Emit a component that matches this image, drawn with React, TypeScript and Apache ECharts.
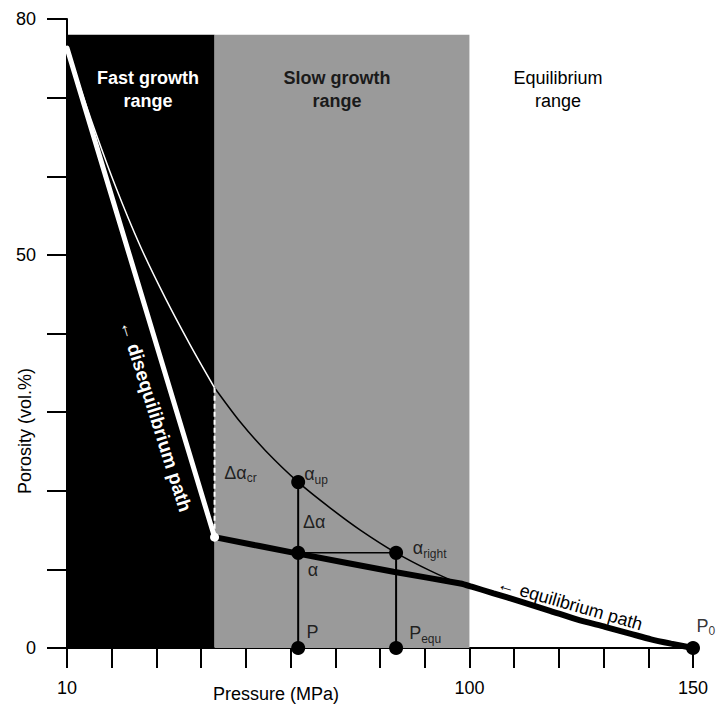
import React, { useEffect, useRef } from 'react';
import * as echarts from 'echarts';

const FONT = '"Liberation Sans", Arial, Helvetica, sans-serif';

// Axis tick labels
const xTickLabels = [10, 100, 150];
const yTickLabels = [0, 50, 80];

// Growth ranges (pressure, MPa)
const regionNames = ['Fast growth\nrange', 'Slow growth\nrange', 'Equilibrium\nrange'];
const regionStart = [10, 43, 100];
const regionEnd = [43, 100, 150];
const regionTop = 78;

// Equilibrium porosity curve (thin line)
const curveX = [10, 15.4, 20.8, 26.4, 32.0, 37.6, 43.0, 48.8, 54.4, 61.7, 68.9, 75.6, 83.6, 91.3, 98.0];
const curveY = [76.3, 67.2, 58.8, 51.1, 44.5, 38.5, 33.1, 28.7, 25.1, 21.1, 17.8, 15.0, 12.1, 9.8, 8.1];

// Disequilibrium path (thick white)
const diseqX = [10, 43];
const diseqY = [76.3, 14.1];

// Equilibrium path (thick black)
const eqPathX = [43, 61.7, 83.0, 98.0, 100.5, 105.4, 111.5, 118.2, 124.2, 130.3, 136.1, 140.6, 145.1, 150];
const eqPathY = [14.1, 12.0, 9.7, 8.2, 7.8, 6.95, 5.9, 4.7, 3.6, 2.7, 1.8, 1.1, 0.55, 0];

// Key points
const pressureP = 61.7;
const pressureEqu = 83.6;
const pressure0 = 150;
const alphaUp = 21.1;
const alphaVal = 12.1;
const alphaRight = 12.1;
const criticalTop = 33.1;
const criticalBottom = 14.1;

// Annotation labels (anchored at label centres)
const annotationTexts = [
  '{m|Δα}{s|cr}',
  '{m|α}{s|up}',
  '{m|Δα}',
  '{m|α}',
  '{m|α}{s|right}',
  '{m|P}',
  '{m|P}{s|equ}',
  '{m|P}{s|0}',
];
const annotationX = [48.8, 65.7, 65.3, 65.0, 91.1, 64.9, 90.1, 152.9];
const annotationY = [22.3, 22.1, 16.0, 9.9, 12.7, 2.0, 1.9, 2.8];

const regionColors = ['#000000', '#9a9a9a', 'rgba(0,0,0,0)'];

export default function App() {
  const ref = useRef<HTMLDivElement>(null);
  useEffect(() => {
    if (!ref.current) return;
    const chart = echarts.init(ref.current, undefined, { renderer: 'svg' });

    const curveWhite = curveX.map((x, i) => [x, curveY[i]]).filter((p) => p[0] <= regionEnd[0]);
    const curveBlack = curveX.map((x, i) => [x, curveY[i]]).filter((p) => p[0] >= regionEnd[0]);

    const blackLine = (data: number[][], width: number, z = 4) => ({
      type: 'line',
      data,
      symbol: 'none',
      z,
      lineStyle: { color: '#000', width },
      silent: true,
    });

    const option: any = {
      animation: false,
      backgroundColor: '#fff',
      grid: { left: 67, right: 25, top: 19, bottom: 60, containLabel: false },
      xAxis: {
        type: 'value',
        min: 10,
        max: 150,
        interval: 10,
        axisLine: { show: true, onZero: false, lineStyle: { color: '#000', width: 2 } },
        axisTick: { show: true, length: 20, lineStyle: { color: '#000', width: 2 } },
        splitLine: { show: false },
        axisLabel: {
          margin: 31,
          fontSize: 18,
          fontFamily: FONT,
          color: '#000',
          formatter: (v: number) => (xTickLabels.includes(v) ? String(v) : ''),
        },
      },
      yAxis: {
        type: 'value',
        min: 0,
        max: 80,
        interval: 10,
        axisLine: { show: true, onZero: false, lineStyle: { color: '#000', width: 2 } },
        axisTick: { show: true, length: 20, lineStyle: { color: '#000', width: 2 } },
        splitLine: { show: false },
        axisLabel: {
          margin: 31,
          fontSize: 18,
          fontFamily: FONT,
          color: '#000',
          formatter: (v: number) => (yTickLabels.includes(v) ? String(v) : ''),
        },
      },
      series: [
        {
          type: 'line',
          data: [[10, 0]],
          symbol: 'none',
          lineStyle: { opacity: 0 },
          z: 1,
          silent: true,
          markArea: {
            silent: true,
            label: { show: false },
            data: regionStart.map((s, i) => [
              { xAxis: s, yAxis: 0, itemStyle: { color: regionColors[i] } },
              { xAxis: regionEnd[i], yAxis: regionTop },
            ]),
          },
        },
        {
          type: 'line',
          data: curveWhite,
          symbol: 'none',
          smooth: 0.3,
          z: 3,
          lineStyle: { color: '#fff', width: 1.5 },
          silent: true,
        },
        { ...blackLine(curveBlack, 1.5, 3), smooth: 0.3 },
        {
          type: 'line',
          data: diseqX.map((x, i) => [x, diseqY[i]]),
          symbol: 'none',
          z: 4,
          lineStyle: { color: '#fff', width: 5, cap: 'round' },
          silent: true,
        },
        { ...blackLine(eqPathX.map((x, i) => [x, eqPathY[i]]), 6, 4), smooth: 0.2 },
        {
          type: 'line',
          data: [
            [regionEnd[0], criticalTop],
            [regionEnd[0], criticalBottom],
          ],
          symbol: 'none',
          z: 4,
          lineStyle: { color: '#fff', width: 2, type: [5, 3] },
          silent: true,
        },
        blackLine(
          [
            [pressureP, 0],
            [pressureP, alphaUp],
          ],
          2,
          5
        ),
        blackLine(
          [
            [pressureEqu, 0],
            [pressureEqu, alphaRight],
          ],
          2,
          5
        ),
        blackLine(
          [
            [pressureP, alphaVal],
            [pressureEqu, alphaRight],
          ],
          1.5,
          5
        ),
        {
          type: 'scatter',
          clip: false,
          z: 6,
          symbol: 'circle',
          symbolSize: 14,
          itemStyle: { color: '#000', opacity: 1 },
          data: [
            [pressureP, alphaUp],
            [pressureP, alphaVal],
            [pressureEqu, alphaRight],
            [pressureP, 0],
            [pressureEqu, 0],
            [pressure0, 0],
          ],
          silent: true,
        },
        {
          type: 'scatter',
          clip: false,
          z: 6,
          symbol: 'circle',
          symbolSize: 9,
          itemStyle: { color: '#fff', opacity: 1 },
          data: [[regionEnd[0], criticalBottom]],
          silent: true,
        },
        {
          type: 'scatter',
          clip: false,
          z: 7,
          symbolSize: 0,
          silent: true,
          data: annotationTexts.map((t, i) => ({
            value: [annotationX[i], annotationY[i]],
            label: { formatter: t },
          })),
          label: {
            show: true,
            position: 'inside',
            rich: {
              m: { fontSize: 18, fontFamily: FONT, color: '#000', lineHeight: 22 },
              s: { fontSize: 12, fontFamily: FONT, color: '#000', lineHeight: 12, padding: [11, 0, 0, 0] },
            },
          },
        },
      ],
      graphic: [
        {
          type: 'text',
          z: 100,
          x: 276,
          y: 694,
          style: { text: 'Pressure (MPa)', fontSize: 18, fontFamily: FONT, fill: '#000', align: 'center', verticalAlign: 'middle' },
        },
        {
          type: 'text',
          z: 100,
          x: 25,
          y: 431,
          rotation: Math.PI / 2,
          style: { text: 'Porosity (vol.%)', fontSize: 18, fontFamily: FONT, fill: '#000', align: 'center', verticalAlign: 'middle' },
        },
        {
          type: 'text',
          z: 100,
          x: 148,
          y: 89,
          style: { text: regionNames[0], fontSize: 18, fontWeight: 'bold', lineHeight: 23, fontFamily: FONT, fill: '#fff', align: 'center', verticalAlign: 'middle' },
        },
        {
          type: 'text',
          z: 100,
          x: 337,
          y: 89,
          style: { text: regionNames[1], fontSize: 18, fontWeight: 'bold', lineHeight: 23, fontFamily: FONT, fill: '#1a1a1a', align: 'center', verticalAlign: 'middle' },
        },
        {
          type: 'text',
          z: 100,
          x: 558,
          y: 89,
          style: { text: regionNames[2], fontSize: 18, lineHeight: 23, fontFamily: FONT, fill: '#000', align: 'center', verticalAlign: 'middle' },
        },
        {
          type: 'text',
          z: 100,
          x: 156,
          y: 416,
          rotation: (-72.5 * Math.PI) / 180,
          style: { text: '← disequilibrium path', fontSize: 19, fontWeight: 'bold', fontFamily: FONT, fill: '#fff', align: 'center', verticalAlign: 'middle' },
        },
        {
          type: 'text',
          z: 100,
          x: 570,
          y: 604,
          rotation: (-16 * Math.PI) / 180,
          style: { text: '← equilibrium path', fontSize: 18, fontFamily: FONT, fill: '#000', align: 'center', verticalAlign: 'middle' },
        },
      ],
    };
    chart.setOption(option);
    return () => chart.dispose();
  }, []);
  return (
    <div
      ref={ref}
      style={{ position: 'fixed', left: 0, top: 0, width: 718, height: 708, background: '#fff' }}
    />
  );
}
